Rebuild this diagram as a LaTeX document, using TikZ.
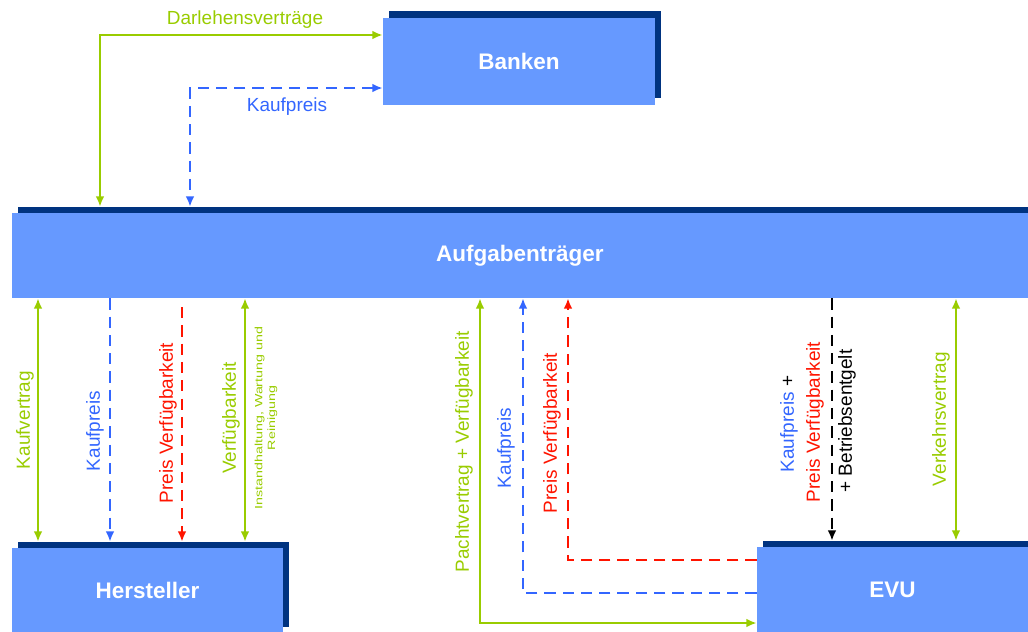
\documentclass[tikz,border=0pt]{standalone}
\usepackage{fontspec}
\usepackage{graphicx}
\setmainfont{Liberation Sans}
\usetikzlibrary{arrows.meta}
\definecolor{boxblue}{RGB}{102,153,255}
\definecolor{boxnavy}{RGB}{0,51,128}
\definecolor{linkgreen}{RGB}{153,204,0}
\definecolor{linkblue}{RGB}{51,102,255}
\definecolor{linkred}{RGB}{255,20,0}
\begin{document}
\begin{tikzpicture}[x=0.025cm, y=-0.025cm,
    >={Latex[length=2.6mm,width=2.2mm]},
    front/.style={rectangle, fill=boxblue, text=white, inner sep=0pt,
        font=\fontsize{16}{18}\selectfont\bfseries},
    back/.style={rectangle, fill=boxnavy, inner sep=0pt},
    green link/.style={draw=linkgreen, line width=2.1pt},
    blue link/.style={draw=linkblue, line width=2.1pt, dash pattern=on 8pt off 5pt},
    red link/.style={draw=linkred, line width=2.1pt, dash pattern=on 8pt off 5pt},
    black link/.style={draw=black, line width=1.9pt, dash pattern=on 8pt off 5pt},
    lbl/.style={inner sep=0pt, font=\fontsize{13.5}{15}\selectfont},
    vlbl/.style={lbl, rotate=90}]
    \useasboundingbox (0,0) rectangle (1028,632);

    % boxes (dark shadow behind, light box in front)
    \node[back, minimum width=6.8cm, minimum height=2.175cm] (bankd) at (525,54.5) {};
    \node[front, minimum width=6.8cm, minimum height=2.175cm] (bank) at (519,61.5) {Banken};
    \node[back, minimum width=25.4cm, minimum height=2.125cm] (aufd) at (526,249.5) {};
    \node[front, minimum width=25.4cm, minimum height=2.125cm] (auf) at (520,255.5) {Aufgabenträger};
    \node[back, minimum width=6.775cm, minimum height=2.125cm] (hersd) at (153.5,584.5) {};
    \node[front, minimum width=6.775cm, minimum height=2.125cm] (hers) at (147.5,590.5) {Hersteller};
    \node[back, minimum width=6.775cm, minimum height=2.15cm] (evud) at (898.5,584) {};
    \node[front, minimum width=6.775cm, minimum height=2.15cm] (evu) at (892.5,590) {EVU};

    % Banken <-> Aufgabentraeger
    \coordinate (dar) at (100,35);
    \coordinate (kpb) at (190,88);
    \draw[green link, <->] (aufd.north -| dar) |- (bank.west |- dar);
    \draw[blue link, <->] (bank.west |- kpb) -| (aufd.north -| kpb);
    \node[lbl, text=linkgreen] (darlbl) at (245,20) {Darlehensverträge};
    \node[lbl, text=linkblue] (kpblbl) at (287,107) {Kaufpreis};

    % Aufgabentraeger <-> Hersteller
    \coordinate (kv) at (38,0);
    \coordinate (kph) at (110,0);
    \coordinate (pvh) at (182,0);
    \coordinate (vfh) at (245,0);
    \draw[green link, <->] (auf.south -| kv) -- (hersd.north -| kv);
    \draw[blue link, ->] (auf.south -| kph) -- (hersd.north -| kph);
    \draw[red link, ->, shorten <=0.22cm] (auf.south -| pvh) -- (hersd.north -| pvh);
    \draw[green link, <->] (auf.south -| vfh) -- (hersd.north -| vfh);
    \node[vlbl, text=linkgreen] (kvlbl) at (25,420) {Kaufvertrag};
    \node[vlbl, text=linkblue] (kphlbl) at (95,431) {Kaufpreis};
    \node[vlbl, text=linkred] (pvhlbl) at (168,423) {Preis Verfügbarkeit};
    \node[vlbl, text=linkgreen] (vfhlbl) at (231,418) {Verfügbarkeit};
    \node[vlbl, text=linkgreen, align=center, font=\fontsize{7.5}{9}\selectfont] (iwrlbl) at (266,418)
        {\scalebox{1.35}[1]{Instandhaltung, Wartung und}\\\scalebox{1.35}[1]{Reinigung}};

    % Aufgabentraeger <-> EVU
    \coordinate (pv) at (480,623);
    \coordinate (kpe) at (523,593);
    \coordinate (pve) at (568,560);
    \coordinate (be) at (832,0);
    \coordinate (vv) at (956,0);
    \draw[green link, <->] (auf.south -| pv) |- (evu.west |- pv);
    \draw[blue link, ->] (evu.west |- kpe) -| (auf.south -| kpe);
    \draw[red link, ->] (evu.west |- pve) -| (auf.south -| pve);
    \draw[black link, ->] (auf.south -| be) -- (evud.north -| be);
    \draw[green link, <->] (auf.south -| vv) -- (evud.north -| vv);
    \node[vlbl, text=linkgreen] (pvlbl) at (464,452) {Pachtvertrag + Verfügbarkeit};
    \node[vlbl, text=linkblue] (kpelbl) at (506,448) {Kaufpreis};
    \node[vlbl, text=linkred] (pvelbl) at (552,433) {Preis Verfügbarkeit};
    \node[vlbl] (kpplbl) at (789,424) {\textcolor{linkblue}{Kaufpreis} +};
    \node[vlbl, text=linkred] (pvplbl) at (815,422) {Preis Verfügbarkeit};
    \node[vlbl] (belbl) at (847,421) {+ Betriebsentgelt};
    \node[vlbl, text=linkgreen] (vvlbl) at (941,419) {Verkehrsvertrag};
\end{tikzpicture}
\end{document}
